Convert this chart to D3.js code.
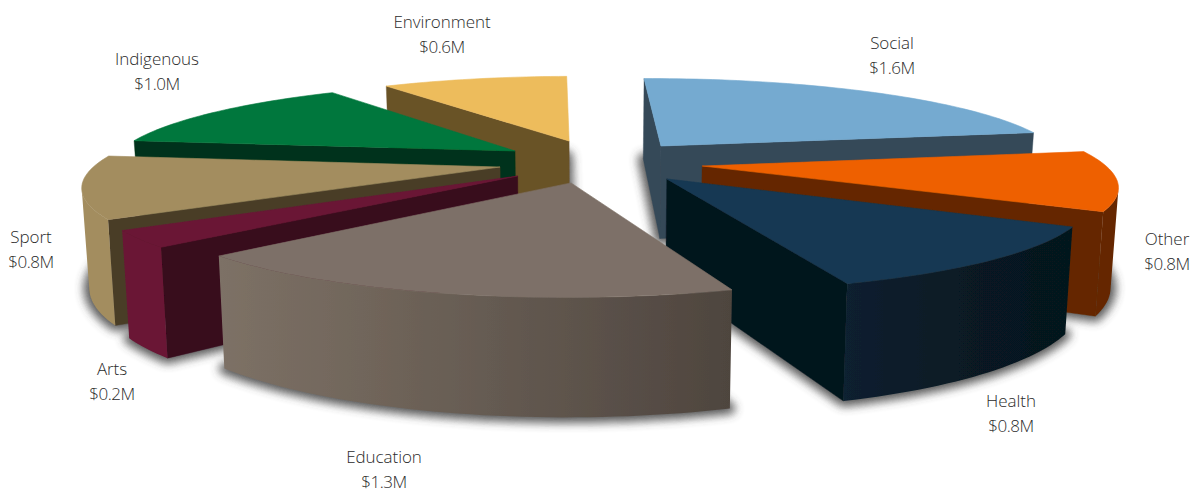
<!DOCTYPE html>
<html><head><meta charset="utf-8">
<script src="https://cdn.jsdelivr.net/npm/d3@7"></script>
<style>
html,body{margin:0;padding:0;background:#fff}
svg{display:block}
text{font-family:"Open Sans","Noto Sans",sans-serif;font-weight:300;font-size:17px;fill:#2b2b2b;text-anchor:middle;letter-spacing:-.05px}
tspan.amount{letter-spacing:-.5px}
</style></head><body>
<svg id="c" width="1195" height="491"></svg>
<script>
// ---- data (angular shares; printed labels are the chart's own rounded text)
const categories = ["Social","Other","Health","Education","Arts","Sport","Indigenous","Environment"];
const amounts    = [1.61,0.77,0.84,1.30,0.21,0.80,0.96,0.66];
const amountLabels = ["$1.6M","$0.8M","$0.8M","$1.3M","$0.2M","$0.8M","$1.0M","$0.6M"];

// ---- layout and style
const topColors  = ["#74aad0","#ee6000","#143852","#7d7067","#6a1635","#a38d5f","#00773c","#edbc5c"];
const sideColors = ["#344858","#652800","#05161f","#54493f","#38081c","#4a3d28","#00331a","#695228"];
const rimColors  = ["#344858","#652800","url(#rimHealth)","url(#rimEducation)","#6a1635","#a38d5f","#00331a","#695228"];
const pullDistance = [119,112,98,83,87,90,103,121];
const pullBearing  = [38.5,92.4,130.5,192.7,234.3,264,311.3,349.5];
const sliceRadius  = [410,403,399,400,402,405,408,400];
const paintOrder   = [0,7,6,5,4,1,2,3];
const labelX = [892,1167,1011,384,112,31,157,442];
const labelY = [49,245,407,463,375,243,65,28];
const view = {cx:590, cy:165, tilt:0.2127, persp:450, height:96, wallPersp:530, taper:0.985};

const svg = d3.select("#c");
const defs = svg.append("defs");
const grad = (id, stops) => {
  const g = defs.append("linearGradient").attr("id",id).attr("x1",0).attr("x2",1).attr("y1",0).attr("y2",0);
  stops.forEach(([o,c]) => g.append("stop").attr("offset",o).attr("stop-color",c));
};
grad("rimEducation",[[0,"#7d7166"],[0.3,"#70655a"],[0.65,"#5f554d"],[1,"#4e453e"]]);
grad("rimHealth",[[0,"#0a2030"],[0.5,"#071a25"],[1,"#06161c"]]);
defs.append("filter").attr("id","shadow").attr("x","-20%").attr("y","-20%").attr("width","140%").attr("height","140%")
  .append("feGaussianBlur").attr("stdDeviation",5);
defs.append("filter").attr("id","soft").attr("x","-5%").attr("y","-5%").attr("width","110%").attr("height","110%")
  .append("feGaussianBlur").attr("stdDeviation",0.55);

const rad = d => d*Math.PI/180;
const pie = d3.pie().sort(null).startAngle(rad(-1)).endAngle(rad(359));
const arcs = pie(amounts);
const line = d3.line();

function project(X,Z){
  const s = 1/(1 - view.tilt*Z/view.persp);
  const x = view.cx + X*s, y = view.cy + view.tilt*Z*s;
  const h = view.height*(1+(y-view.cy)/view.wallPersp);
  return {top:[x,y], bottom:[view.cx+(x-view.cx)*view.taper, y+h]};
}
// d3.polygonArea is positive for the faces that look toward the viewer with this vertex order
const facesViewer = pts => d3.polygonArea(pts) > 0;

function sliceGeometry(i){
  const a = arcs[i], R = sliceRadius[i];
  const ox = pullDistance[i]*Math.sin(rad(pullBearing[i])), oz = -pullDistance[i]*Math.cos(rad(pullBearing[i]));
  const apex = project(ox,oz);
  const n = Math.max(6,Math.ceil((a.endAngle-a.startAngle)/rad(1.5)));
  const rim = d3.range(n+1).map(k=>{
    const t = a.startAngle+(a.endAngle-a.startAngle)*k/n;
    return project(ox+R*Math.sin(t), oz-R*Math.cos(t));
  });
  return {apex,rim};
}
const quad = (p,q)=>[p.top,q.top,q.bottom,p.bottom];

const geos = categories.map((_,i)=>sliceGeometry(i));
const chart = svg.append("g").attr("filter","url(#soft)");

// blurred ground shadow
const shadow = chart.append("g").attr("filter","url(#shadow)").attr("fill","#3c3c3c").attr("stroke","#3c3c3c")
  .attr("stroke-width",11).attr("stroke-linejoin","round").attr("opacity",.85);
paintOrder.forEach(i=>{
  const g = geos[i];
  shadow.append("path").attr("d",line([g.apex,...g.rim].map(p=>p.bottom))+"Z");
});

// slices, far to near; faces turned away from the viewer are not drawn
paintOrder.forEach(i=>{
  const g = geos[i], sl = chart.append("g").attr("class","slice").attr("data-name",categories[i]);
  const last = g.rim.length-1;
  [quad(g.apex,g.rim[0]), quad(g.rim[last],g.apex)].forEach(poly=>{
    if(facesViewer(poly)) sl.append("path").attr("d",line(poly)+"Z").attr("fill",sideColors[i]).attr("stroke",sideColors[i]).attr("stroke-width",.4);
  });
  let run=[];
  const flush=()=>{
    if(run.length>1){
      const poly=[...run.map(p=>p.top),...run.slice().reverse().map(p=>p.bottom)];
      sl.append("path").attr("d",line(poly)+"Z").attr("fill",rimColors[i]);
    }
    run=[];
  };
  for(let k=0;k<last;k++){
    if(facesViewer(quad(g.rim[k],g.rim[k+1]))){ if(!run.length) run.push(g.rim[k]); run.push(g.rim[k+1]); }
    else flush();
  }
  flush();
  sl.append("path").attr("d",line([g.apex,...g.rim].map(p=>p.top))+"Z").attr("fill",topColors[i])
    .attr("stroke",topColors[i]).attr("stroke-width",.6);
});

// labels
const lab = svg.append("g").selectAll("text").data(categories).join("text")
  .attr("x",(d,i)=>labelX[i]).attr("y",(d,i)=>labelY[i]);
lab.append("tspan").attr("x",(d,i)=>labelX[i]).text(d=>d);
lab.append("tspan").attr("class","amount").attr("x",(d,i)=>labelX[i]).attr("dy",24.5).text((d,i)=>amountLabels[i]);
</script>
</body></html>
